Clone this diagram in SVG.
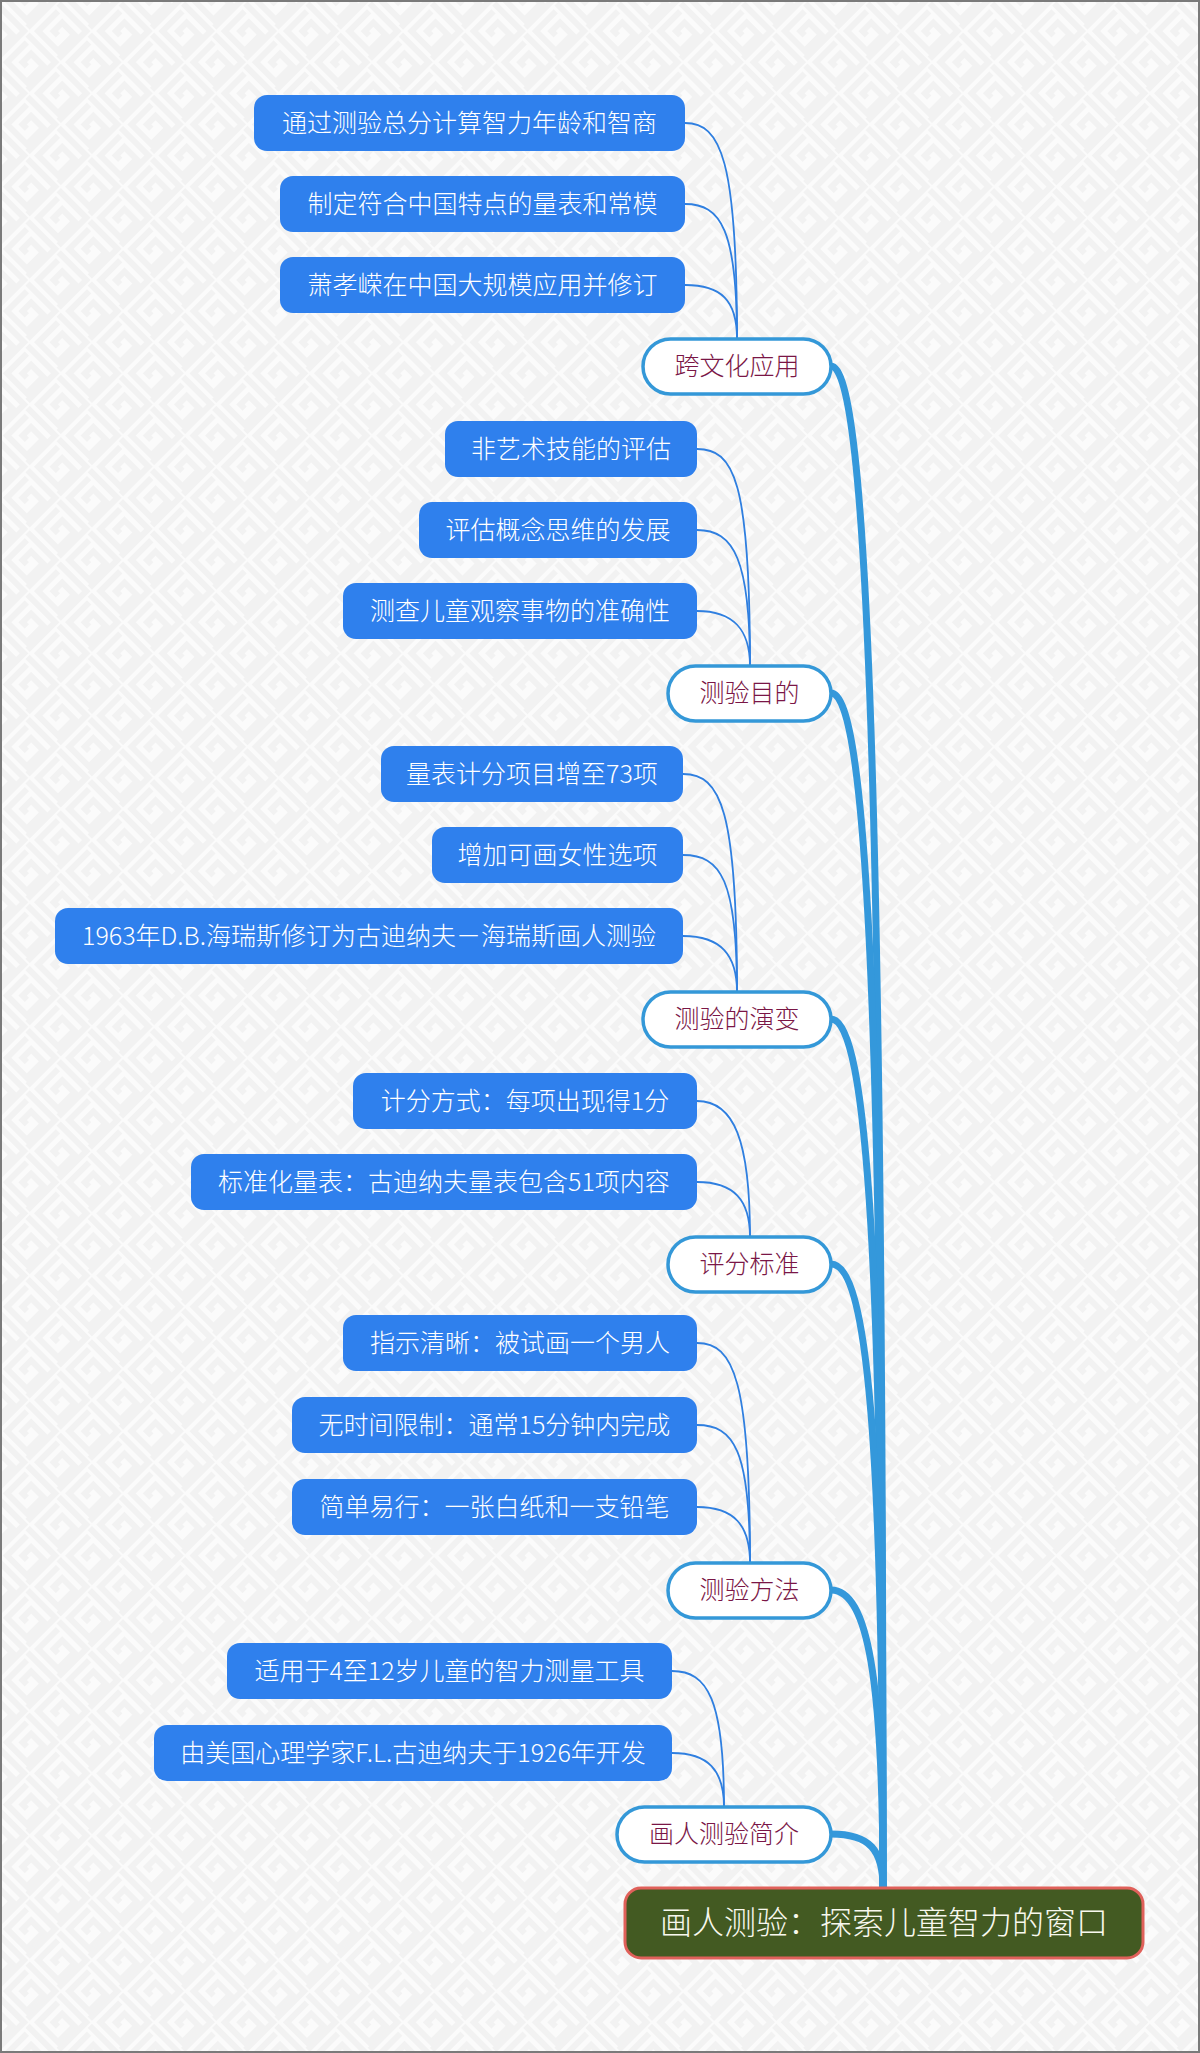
<svg xmlns="http://www.w3.org/2000/svg" width="1200" height="2053" viewBox="0 0 1200 2053">
<defs>
<pattern id="bg" width="44" height="44" patternUnits="userSpaceOnUse" patternTransform="rotate(45)">
<rect width="44" height="44" fill="#fbfbfb"/>
<path d="M0,5 H39 V44 M5,11 V39 H33 V16 H16 V28 H22" fill="none" stroke="#f2f2f2" stroke-width="6"/>
</pattern>
<style>
.leaf rect{fill:#2f80ed;}
.leaf text{fill:#ffffff;font-family:"Noto Sans CJK SC","Noto Sans",sans-serif;font-size:25px;font-weight:300;text-anchor:middle;}
.topic rect{fill:#ffffff;stroke:#3498d8;stroke-width:3.5;}
.topic text{fill:#7a1646;font-family:"Noto Sans CJK SC","Noto Sans",sans-serif;font-size:25px;font-weight:300;text-anchor:middle;}
.thin{fill:none;stroke:#2f7fe0;stroke-width:1.8;}
.thick{fill:none;stroke:#3498db;stroke-width:7;stroke-linecap:round;}
</style>
</defs>
<rect x="0" y="0" width="1200" height="2053" fill="url(#bg)"/>
<rect x="1" y="1" width="1198" height="2051" fill="none" stroke="#7a7a7a" stroke-width="2"/>

<g id="connectors">
<path class="thick" d="M831,366 C868,366 883,820 883,1888"/>
<path class="thick" d="M831,693 C868,693 883,1050 883,1888"/>
<path class="thick" d="M831,1019 C868,1019 883,1280 883,1888"/>
<path class="thick" d="M831,1264 C868,1264 883,1451 883,1888"/>
<path class="thick" d="M831,1590 C868,1590 883,1680 883,1888"/>
<path class="thick" d="M831,1834 C870,1834 883,1850 883,1888"/>

<path class="thin" d="M685,123 C721,123 737,160 737,339"/>
<path class="thin" d="M685,204 C721,204 737,230 737,339"/>
<path class="thin" d="M685,285 C721,285 737,300 737,339"/>

<path class="thin" d="M697,449 C734,449 750,480 750,666"/>
<path class="thin" d="M697,530 C734,530 750,560 750,666"/>
<path class="thin" d="M697,611 C734,611 750,630 750,666"/>

<path class="thin" d="M683,774 C721,774 737,810 737,992"/>
<path class="thin" d="M683,855 C721,855 737,880 737,992"/>
<path class="thin" d="M683,936 C721,936 737,955 737,992"/>

<path class="thin" d="M697,1101 C734,1101 750,1140 750,1237"/>
<path class="thin" d="M697,1182 C734,1182 750,1200 750,1237"/>

<path class="thin" d="M697,1343 C734,1343 750,1380 750,1563"/>
<path class="thin" d="M697,1425 C734,1425 750,1450 750,1563"/>
<path class="thin" d="M697,1507 C734,1507 750,1525 750,1563"/>

<path class="thin" d="M672,1671 C708,1671 724,1700 724,1807"/>
<path class="thin" d="M672,1753 C708,1753 724,1770 724,1807"/>
</g>

<g id="n-g1-1" class="leaf"><rect x="254" y="95" width="431" height="56" rx="13"/><text x="469.5" y="132">通过测验总分计算智力年龄和智商</text></g>
<g id="n-g1-2" class="leaf"><rect x="280" y="176" width="405" height="56" rx="13"/><text x="482.5" y="213">制定符合中国特点的量表和常模</text></g>
<g id="n-g1-3" class="leaf"><rect x="280" y="257" width="405" height="56" rx="13"/><text x="482.5" y="294">萧孝嵘在中国大规模应用并修订</text></g>

<g id="n-g2-1" class="leaf"><rect x="445" y="421" width="252" height="56" rx="13"/><text x="571" y="458">非艺术技能的评估</text></g>
<g id="n-g2-2" class="leaf"><rect x="419" y="502" width="278" height="56" rx="13"/><text x="558" y="539">评估概念思维的发展</text></g>
<g id="n-g2-3" class="leaf"><rect x="343" y="583" width="354" height="56" rx="13"/><text x="520" y="620">测查儿童观察事物的准确性</text></g>

<g id="n-g3-1" class="leaf"><rect x="381" y="746" width="302" height="56" rx="13"/><text x="532" y="783">量表计分项目增至73项</text></g>
<g id="n-g3-2" class="leaf"><rect x="432" y="827" width="251" height="56" rx="13"/><text x="557.5" y="864">增加可画女性选项</text></g>
<g id="n-g3-3" class="leaf"><rect x="55" y="908" width="628" height="56" rx="13"/><text x="369" y="945">1963年D.B.海瑞斯修订为古迪纳夫－海瑞斯画人测验</text></g>

<g id="n-g4-1" class="leaf"><rect x="353" y="1073" width="344" height="56" rx="13"/><text x="525" y="1110">计分方式：每项出现得1分</text></g>
<g id="n-g4-2" class="leaf"><rect x="191" y="1154" width="506" height="56" rx="13"/><text x="444" y="1191">标准化量表：古迪纳夫量表包含51项内容</text></g>

<g id="n-g5-1" class="leaf"><rect x="343" y="1315" width="354" height="56" rx="13"/><text x="520" y="1352">指示清晰：被试画一个男人</text></g>
<g id="n-g5-2" class="leaf"><rect x="292" y="1397" width="405" height="56" rx="13"/><text x="494.5" y="1434">无时间限制：通常15分钟内完成</text></g>
<g id="n-g5-3" class="leaf"><rect x="292" y="1479" width="405" height="56" rx="13"/><text x="494.5" y="1516">简单易行：一张白纸和一支铅笔</text></g>

<g id="n-g6-1" class="leaf"><rect x="227" y="1643" width="445" height="56" rx="13"/><text x="449.5" y="1680">适用于4至12岁儿童的智力测量工具</text></g>
<g id="n-g6-2" class="leaf"><rect x="154" y="1725" width="518" height="56" rx="13"/><text x="413" y="1762">由美国心理学家F.L.古迪纳夫于1926年开发</text></g>

<g id="t1" class="topic"><rect x="643" y="339" width="188" height="55" rx="27.5"/><text x="737" y="375">跨文化应用</text></g>
<g id="t2" class="topic"><rect x="668" y="666" width="163" height="55" rx="27.5"/><text x="749.5" y="702">测验目的</text></g>
<g id="t3" class="topic"><rect x="643" y="992" width="188" height="55" rx="27.5"/><text x="737" y="1028">测验的演变</text></g>
<g id="t4" class="topic"><rect x="668" y="1237" width="163" height="55" rx="27.5"/><text x="749.5" y="1273">评分标准</text></g>
<g id="t5" class="topic"><rect x="668" y="1563" width="163" height="55" rx="27.5"/><text x="749.5" y="1599">测验方法</text></g>
<g id="t6" class="topic"><rect x="617" y="1807" width="214" height="55" rx="27.5"/><text x="724" y="1843">画人测验简介</text></g>

<g id="root"><rect x="625" y="1888" width="518" height="70" rx="16" fill="#435a22" stroke="#e0605a" stroke-width="3"/><text x="884" y="1934" fill="#f8f8ee" font-family="'Noto Sans CJK SC','Noto Sans',sans-serif" font-size="32" font-weight="300" text-anchor="middle">画人测验：探索儿童智力的窗口</text></g>
</svg>
